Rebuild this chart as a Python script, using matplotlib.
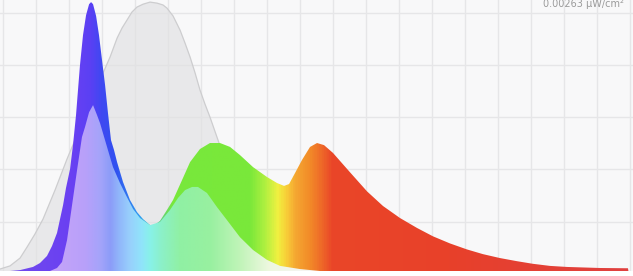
import numpy as np
import matplotlib
matplotlib.use("Agg")
import matplotlib.pyplot as plt
from matplotlib.colors import LinearSegmentedColormap, Normalize

# reference curve (grey, behind)
ref_wl = [377.7, 385.3, 392.9, 398.2, 404.2, 410.3, 419.4, 428.5, 438.3, 445.9,
          451.2, 455.8, 461.1, 466.4, 470.2, 473.9, 477.7, 481.5, 486.1, 491.4,
          496.7, 501.2, 504.2, 508.8, 514.1, 517.9, 521.7, 525.5, 529.2, 533.0,
          536.8, 542.9, 552.0, 563.3, 574.8, 589.9, 605.0, 627.7, 857.3]
ref_val = [1.9, 3.1, 6.1, 10.3, 15.3, 21.0, 32.1, 44.0, 55.8, 65.4,
           71.5, 76.9, 83.0, 90.2, 94.1, 97.1, 100.2, 102.1, 103.2, 104.0,
           103.6, 102.9, 101.7, 98.7, 93.3, 88.3, 83.0, 76.9, 70.4, 65.0,
           60.0, 51.2, 37.9, 24.5, 14.9, 7.3, 3.4, 1.5, 0.0]

# full spectrum (saturated colours)
spec_wl = [377.7, 385.3, 392.9, 402.7, 408.0, 413.3, 417.1, 420.9, 425.5, 427.7,
           430.8, 433.0, 435.3, 436.8, 438.3, 440.6, 442.9, 445.2, 446.7, 448.2,
           450.5, 452.7, 455.0, 457.3, 459.5, 461.8, 464.1, 466.4, 470.9, 476.2,
           481.5, 486.1, 491.4, 492.9, 498.9, 504.2, 508.8, 515.6, 521.7, 529.2,
           536.8, 544.4, 552.0, 559.5, 569.4, 580.0, 587.6, 592.9, 596.7, 601.2,
           606.5, 612.6, 617.9, 623.2, 630.0, 642.9, 655.8, 667.9, 680.8, 693.7,
           705.8, 718.6, 731.5, 743.6, 756.5, 769.4, 781.5, 794.4, 807.3, 832.3,
           853.5, 854.2]
spec_val = [1.15, 1.15, 1.5, 2.7, 4.2, 6.9, 10.7, 15.7, 26.4, 32.9,
            40.2, 49.3, 60.8, 70.4, 79.9, 91.4, 99.0, 103.2, 104.0, 103.2,
            98.7, 91.4, 81.8, 72.3, 61.6, 51.2, 47.4, 42.8, 35.2, 28.3,
            23.7, 21.0, 18.7, 18.0, 20.3, 24.5, 28.3, 35.9, 42.8, 47.8,
            50.1, 50.1, 48.6, 45.5, 40.9, 37.1, 34.8, 33.7, 34.4, 38.6,
            43.6, 48.6, 50.1, 49.3, 46.3, 38.9, 31.6, 26.0, 21.4, 17.6,
            14.4, 11.7, 9.4, 7.6, 6.1, 4.9, 3.9, 3.1, 2.7, 2.3,
            2.2, 0.0]

# lower spectrum (pastel colours, in front)
low_wl = [415.6, 420.9, 424.7, 428.5, 432.3, 436.1, 439.8, 442.1, 445.2, 448.2,
          451.2, 453.5, 458.8, 463.3, 468.6, 473.9, 478.5, 483.8, 491.4, 498.9,
          506.5, 512.6, 517.9, 523.2, 527.7, 534.5, 542.1, 549.7, 559.5, 569.4,
          580.0, 589.9, 605.0, 620.2]
low_val = [1.15, 2.3, 4.6, 13.0, 26.4, 39.8, 52.4, 56.2, 61.9, 64.6,
           60.8, 57.7, 48.6, 40.9, 34.8, 29.4, 24.9, 21.4, 18.7, 19.9,
           24.5, 29.1, 32.1, 33.3, 33.3, 31.0, 25.6, 20.6, 14.1, 9.2,
           5.4, 3.1, 1.9, 1.15]

spec_stops = [392.9, 430.8, 445.9, 453.5, 464.9, 483.8, 498.9, 508.0, 567.0,
              578.5, 588.0, 594.4, 601.2, 612.6, 621.7, 629.3, 718.6, 853.5]
spec_colors = ['#7048ee', '#6a40f2', '#5a40f4', '#4048f2', '#3050f0', '#30a0f0',
               '#60d080', '#78e83c', '#7ae83a', '#b0f040', '#f0f040', '#f8d038',
               '#f5a832', '#f28a28', '#ee6828', '#ea4628', '#e8412a', '#e04040']

low_stops = [419.4, 442.1, 453.5, 461.0, 467.0, 476.0, 485.0, 491.4, 500.0,
             514.0, 537.0, 559.5, 582.0, 605.0]
low_colors = ['#c4a4f8', '#b8a0fa', '#a4a4fa', '#8c9cf8', '#90b4fa', '#98d0fc',
              '#90e4fa', '#88f2e8', '#8cf0c8', '#90f0a4', '#98f0a0', '#c0f4b8',
              '#eef8e0', '#f4f4f0']

x_min, x_max = 377.7, 857.3
y_min, y_max = 1.15, 104.8


def gradient_fill(ax, wl, vals, stops, colors, z):
    poly = ax.fill_between(wl, 0, vals, color='none', lw=0)
    lo, hi = stops[0], stops[-1]
    pos = (np.array(stops) - lo) / (hi - lo)
    cmap = LinearSegmentedColormap.from_list('grad', list(zip(pos, colors)))
    xs = np.linspace(x_min, x_max, 1200)
    im = ax.imshow(xs[None, :], cmap=cmap, norm=Normalize(lo, hi), aspect='auto',
                   extent=[x_min, x_max, 0, y_max], origin='lower',
                   interpolation='bilinear', zorder=z)
    im.set_clip_path(poly.get_paths()[0], transform=poly.get_transform())


fig = plt.figure(figsize=(6.33, 2.76), dpi=100)
fig.patch.set_facecolor('white')
ax = fig.add_axes([0, 5 / 276, 1, 271 / 276])
ax.set_facecolor('#f8f8f9')

ax.fill_between(ref_wl, 0, ref_val, color='#e0e0e2', alpha=0.65, lw=0, zorder=1)
ax.plot(ref_wl, ref_val, color='#cdcdcf', lw=0.9, zorder=1.5)

gradient_fill(ax, spec_wl, spec_val, spec_stops, spec_colors, 2)
gradient_fill(ax, low_wl, low_val, low_stops, low_colors, 3)

ax.set_xlim(x_min, x_max)
ax.set_ylim(y_min, y_max)
ax.set_xticks(np.arange(380, 857, 25))
ax.set_yticks([20, 40, 60, 80, 100])
ax.grid(True, color='#e6e6e8', lw=1.0)
ax.set_axisbelow(True)
ax.tick_params(length=0, labelbottom=False, labelleft=False)
for s in ax.spines.values():
    s.set_visible(False)

fig.text(0.986, 1 - 7 / 276, '0.00263 μW/cm²', ha='right', va='baseline',
         fontsize=7, color='#9a9a9a')

fig.savefig('out.png', dpi=100, facecolor='white')
